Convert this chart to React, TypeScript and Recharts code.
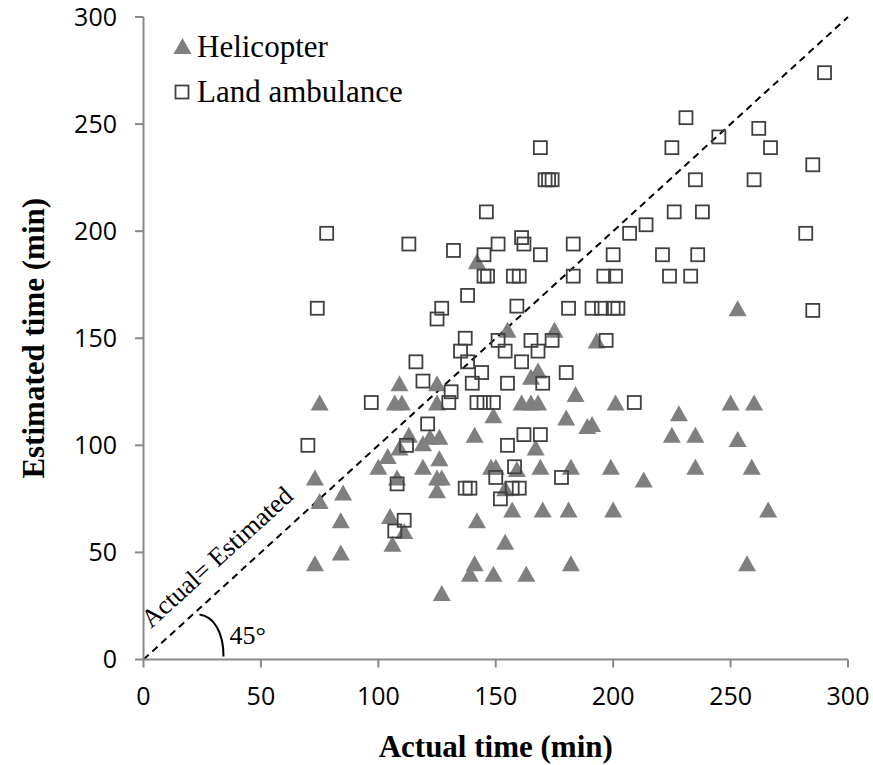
import React from "react";
import {
  ScatterChart,
  Scatter,
  XAxis,
  YAxis,
  ReferenceLine,
  Customized,
} from "recharts";

const helicopterPoints: [number, number][] = [
  [73, 45], [73, 85], [75, 120], [75, 74], [85, 78], [84, 65], [84, 50],
  [100, 90], [104, 95], [105, 67], [106, 54], [107, 120], [108, 85], [109, 129],
  [110, 120], [109, 99], [111, 60], [113, 105], [119, 90], [119, 101], [122, 104],
  [126, 104], [125, 129], [125, 120], [126, 94], [125, 85], [127, 85], [125, 79],
  [127, 31], [139, 40], [141, 105], [141, 45], [142, 65], [142, 186], [148, 90],
  [150, 90], [149, 40], [149, 114], [154, 80], [154, 55], [155, 154], [157, 70],
  [159, 89], [161, 120], [163, 40], [165, 120], [165, 132], [167, 99], [168, 120],
  [168, 135], [169, 90], [170, 70], [175, 154], [180, 113], [181, 70], [182, 45],
  [182, 90], [184, 124], [189, 109], [191, 110], [193, 149], [199, 90], [200, 70],
  [201, 120], [213, 84], [225, 105], [228, 115], [235, 105], [235, 90], [250, 120],
  [253, 164], [253, 103], [257, 45], [259, 90], [260, 120], [266, 70],
];

const ambulancePoints: [number, number][] = [
  [70, 100], [74, 164], [78, 199], [97, 120], [107, 60], [108, 82], [111, 65],
  [112, 100], [113, 194], [116, 139], [119, 130], [121, 110], [125, 159], [127, 164],
  [130, 120], [131, 125], [132, 191], [135, 144], [137, 150], [138, 139], [138, 170],
  [137, 80], [139, 80], [140, 129], [142, 120], [144, 134], [145, 120], [145, 179],
  [146.5, 179], [145, 189], [146, 209], [149, 120], [150, 85], [151, 194], [151, 149],
  [152, 75], [154, 144], [155, 129], [155, 100], [157.5, 179], [157, 80], [158, 90],
  [159, 165], [160, 179], [160, 80], [161, 197], [162, 194], [161, 139], [162, 105],
  [165, 149], [168, 144], [169, 105], [169, 239], [169, 189], [170, 129], [171, 224],
  [172.5, 224], [174, 224], [174, 149], [178, 85], [180, 134], [181, 164], [183, 194],
  [183, 179], [191, 164], [195, 164], [196, 179], [197, 149], [200, 189], [200, 164],
  [201, 179], [202, 164], [207, 199], [209, 120], [214, 203], [221, 189], [224, 179],
  [225, 239], [226, 209], [231, 253], [233, 179], [235, 224], [236, 189], [238, 209],
  [245, 244], [260, 224], [262, 248], [267, 239], [282, 199], [285, 231], [285, 163],
  [290, 274],
];

const xTicks = [0, 50, 100, 150, 200, 250, 300];
const yTicks = [0, 50, 100, 150, 200, 250, 300];

const seriesNames = ["Helicopter", "Land ambulance"];

const W = 873;
const H = 765;
const PLOT = { left: 143.5, top: 17, right: 848, bottom: 659.5 };
const AXIS_GRAY = "#898989";
const TRI_FILL = "#7f7f7f";
const SQ_STROKE = "#404040";
const SERIF = "'Liberation Serif', 'Times New Roman', serif";
const SANS = "'Open Sans', sans-serif";

const helicopterData = helicopterPoints.map(([x, y]) => ({ x, y }));
const ambulanceData = ambulancePoints.map(([x, y]) => ({ x, y }));

function Triangle({ cx, cy }: { cx?: number; cy?: number }) {
  if (cx == null || cy == null) return null;
  const w = 18;
  const h = 16;
  return (
    <path
      d={`M${cx},${cy - h / 2} L${cx + w / 2},${cy + h / 2} L${cx - w / 2},${cy + h / 2} Z`}
      fill={TRI_FILL}
    />
  );
}

function Square({ cx, cy }: { cx?: number; cy?: number }) {
  if (cx == null || cy == null) return null;
  const s = 13;
  return (
    <rect
      x={cx - s / 2}
      y={cy - s / 2}
      width={s}
      height={s}
      fill="none"
      stroke={SQ_STROKE}
      strokeWidth={1.8}
    />
  );
}

function Annotations() {
  const ox = PLOT.left;
  const oy = PLOT.bottom;
  const angle = (Math.atan((PLOT.bottom - PLOT.top) / (PLOT.right - PLOT.left)) * 180) / Math.PI;
  return (
    <g>
      {/* legend */}
      <Triangle cx={182.5} cy={46} />
      <text x={197} y={57} fontFamily={SERIF} fontSize={31} fill="#000">
        {seriesNames[0]}
      </text>
      <Square cx={182} cy={92} />
      <text x={197} y={102} fontFamily={SERIF} fontSize={31} fill="#000">
        {seriesNames[1]}
      </text>

      {/* diagonal label and angle mark */}
      <text
        x={ox + 7.5}
        y={oy - 30.5}
        fontFamily={SERIF}
        fontSize={26}
        fill="#000"
        transform={`rotate(${-angle}, ${ox + 7.5}, ${oy - 30.5})`}
      >
        Actual= Estimated
      </text>
      <path
        d={`M${ox + 56},${oy - 45} C${ox + 70},${oy - 43} ${ox + 80},${oy - 28} ${ox + 80},${oy - 3}`}
        fill="none"
        stroke="#000"
        strokeWidth={2}
      />
      <text x={ox + 86} y={oy - 16} fontFamily={SERIF} fontSize={26} fill="#000">
        45°
      </text>

      {/* axis titles */}
      <text
        x={(PLOT.left + PLOT.right) / 2}
        y={757}
        textAnchor="middle"
        fontFamily={SERIF}
        fontWeight="bold"
        fontSize={31}
        fill="#000"
      >
        Actual time (min)
      </text>
      <text
        x={44}
        y={(PLOT.top + PLOT.bottom) / 2}
        textAnchor="middle"
        fontFamily={SERIF}
        fontWeight="bold"
        fontSize={31}
        fill="#000"
        transform={`rotate(-90, 44, ${(PLOT.top + PLOT.bottom) / 2})`}
      >
        Estimated time (min)
      </text>
    </g>
  );
}

export default function App() {
  return (
    <div style={{ width: W, height: H, background: "#fff" }}>
      <style>{`body{margin:0;background:#fff}`}</style>
      <ScatterChart
        width={W}
        height={H}
        margin={{ top: PLOT.top, right: W - PLOT.right, left: PLOT.left - 100, bottom: H - PLOT.bottom - 60 }}
      >
        <XAxis
          type="number"
          dataKey="x"
          domain={[0, 300]}
          ticks={xTicks}
          height={60}
          stroke={AXIS_GRAY}
          strokeWidth={2}
          tickSize={8}
          tickMargin={20}
          tick={{ fill: "#000", fontFamily: SANS, fontSize: 25 }}
          allowDataOverflow
        />
        <YAxis
          type="number"
          dataKey="y"
          domain={[0, 300]}
          ticks={yTicks}
          width={100}
          stroke={AXIS_GRAY}
          strokeWidth={2}
          tickSize={8.5}
          tickMargin={18}
          tick={{ fill: "#000", fontFamily: SANS, fontSize: 25 }}
          allowDataOverflow
        />
        <ReferenceLine
          segment={[
            { x: 0, y: 0 },
            { x: 300, y: 300 },
          ]}
          stroke="#000"
          strokeWidth={2}
          strokeDasharray="7 5"
          ifOverflow="visible"
        />
        <Scatter
          name={seriesNames[0]}
          data={helicopterData}
          shape={(p: any) => <Triangle cx={p.cx} cy={p.cy} />}
          isAnimationActive={false}
        />
        <Scatter
          name={seriesNames[1]}
          data={ambulanceData}
          shape={(p: any) => <Square cx={p.cx} cy={p.cy} />}
          isAnimationActive={false}
        />
        <Customized component={Annotations} />
      </ScatterChart>
    </div>
  );
}
